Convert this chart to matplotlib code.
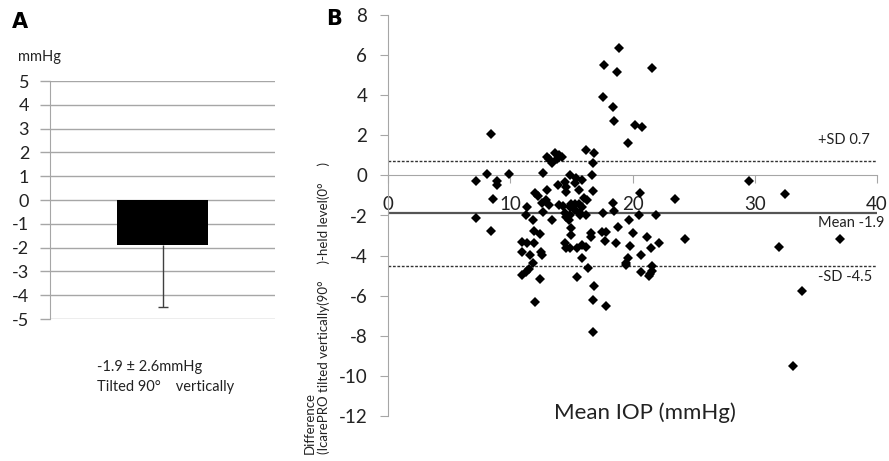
import matplotlib
matplotlib.use("Agg")
import matplotlib.pyplot as plt
import numpy as np

plt.rcParams['font.family'] = ['Lato', 'DejaVu Sans']

# ---------------- data ----------------
# Panel A
bar_mean = -1.9
bar_sd = 2.6
a_yticks = [5, 4, 3, 2, 1, 0, -1, -2, -3, -4, -5]

# Panel B: Bland-Altman points (mean IOP, difference)
mean_iop = [
    7.2, 8.1, 8.4, 8.9, 8.95, 8.55, 9.9, 7.2, 8.4,
    11.35, 11.25, 11.9, 11.0, 11.4, 11.95, 11.0, 11.6, 11.9, 11.0, 11.3, 11.5, 12.05, 12.4,
    11.95, 12.4, 12.55, 12.6, 12.0, 12.3, 12.7, 13.0, 12.9, 13.2, 12.7, 13.4, 12.6,
    13.0, 13.2, 13.4, 13.7, 14.0, 13.8, 14.2,
    13.9, 13.95, 14.5, 14.6, 14.5, 14.6, 14.5, 14.6, 14.9, 15.0, 14.8, 15.0, 15.0, 14.9,
    15.4, 15.3, 15.6, 15.3, 15.65, 15.5, 15.5, 15.9, 16.0, 15.9, 15.7, 15.9, 15.85,
    14.35, 14.9, 15.3, 14.9, 15.7, 14.6,
    16.2, 16.25, 16.2, 16.2, 16.4, 16.6, 16.6, 16.7, 16.75, 16.75, 16.85, 16.85, 16.8, 16.8, 17.5,
    18.9, 17.7, 18.7, 21.6, 17.6, 18.4, 18.5, 20.2, 20.8, 19.65, 20.6, 18.4, 18.45, 17.6,
    20.5, 21.9, 19.7, 18.8, 17.85, 17.75, 20.0, 18.65, 19.8, 21.2, 21.5, 22.2, 20.7, 19.6,
    19.5, 19.5, 20.7, 21.6, 21.6, 21.4, 21.35, 17.8,
    23.5, 24.3, 29.5, 32.5, 32.0, 37.0, 33.9, 33.1,
]
difference = [
    -0.28, 0.05, 2.05, -0.28, -0.48, -1.18, 0.05, -2.1, -2.76,
    -1.6, -1.98, -2.22, -3.3, -3.39, -3.39, -3.8, -3.97, -4.38, -4.97, -4.8, -4.68, -6.3, -5.18,
    -2.77, -2.94, -3.8, -3.97, -0.86, -1.03, 0.13, -0.73, -1.23, -1.48, -1.81, -2.22, -1.39,
    0.93, 0.8, 0.63, 1.13, 1.02, 0.8, 0.93,
    -0.48, -1.48, -0.31, -0.81, -1.89, -2.06, -3.39, -3.64, 0.02, -1.43, -2.22, -2.64, -2.97, -3.64,
    -0.15, -0.4, -0.73, -1.43, -1.43, -3.64, -5.08, -0.23, -1.14, -1.6, -1.89, -3.47, -4.14,
    -1.53, -1.56, -1.73, -1.98, -1.98, -0.56,
    1.27, -1.23, -1.98, -3.56, -4.63, -2.89, -3.06, 0.02, -0.76, 0.6, 1.1, -5.52, -6.2, -7.8, -2.8,
    6.34, 5.5, 5.14, 5.34, 3.9, 3.43, 2.73, 2.51, 2.4, 1.63, -0.86, -1.36, -1.76, -1.89,
    -2.0, -2.0, -2.22, -2.56, -2.84, -3.26, -2.89, -3.39, -3.52, -3.09, -3.64, -3.39, -3.97, -4.14,
    -4.38, -4.47, -4.8, -4.5, -4.75, -4.9, -5.02, -6.5,
    -1.18, -3.19, -0.28, -0.94, -3.59, -3.19, -5.77, -9.49,
]
mean_diff = -1.9
upper_sd = 0.7
lower_sd = -4.5
b_xticks = [0, 10, 20, 30, 40]
b_yticks = [8, 6, 4, 2, 0, -2, -4, -6, -8, -10, -12]

# ---------------- figure ----------------
W, H = 889, 461
fig = plt.figure(figsize=(W / 100, H / 100), dpi=100)

def fx(x):
    return x / W

def fy(y):
    return 1 - y / H

grid_c = '#a6a6a6'
txt_c = '#222222'

# ----- Panel A -----
axA = fig.add_axes([fx(50), fy(319), fx(275) - fx(50), fy(81) - fy(319)])
axA.set_xlim(-0.5, 0.5)
axA.set_ylim(-5, 5)
axA.set_yticks(a_yticks)
axA.set_yticklabels([str(v) for v in a_yticks], fontsize=13, color=txt_c)
axA.yaxis.grid(True, color=grid_c, lw=1)
axA.set_axisbelow(True)
for s in ['top', 'right', 'bottom']:
    axA.spines[s].set_visible(False)
axA.spines['left'].set_color(grid_c)
axA.tick_params(axis='y', length=7, color=grid_c, width=1, pad=8)
axA.set_xticks([])
axA.bar([0], [bar_mean], width=0.405, color='black', zorder=3)
eb = axA.errorbar([0], [bar_mean], yerr=[[bar_sd], [0]], fmt='none',
                  ecolor='#404040', elinewidth=1, capsize=3.5, capthick=1, zorder=2)
for cl in eb[1]:
    if np.allclose(cl.get_ydata(), bar_mean):
        cl.set_visible(False)

fig.text(fx(20), fy(22), 'A', fontsize=15, fontweight='bold', ha='center', va='center',
         family='DejaVu Sans')
fig.text(fx(18), fy(57), 'mmHg', fontsize=10.5, ha='left', va='center', color=txt_c)
fig.text(fx(97), fy(367), '-1.9 ± 2.6mmHg', fontsize=10.5, ha='left', va='center', color=txt_c)
fig.text(fx(97), fy(387), 'Tilted 90°    vertically', fontsize=10.5, ha='left', va='center',
         color=txt_c)

# ----- Panel B -----
axB = fig.add_axes([fx(388), fy(416), fx(877) - fx(388), fy(15) - fy(416)])
axB.set_xlim(0, 40)
axB.set_ylim(-12, 8)
for s in ['top', 'right']:
    axB.spines[s].set_visible(False)
axB.spines['bottom'].set_position(('data', 0))
axB.spines['bottom'].set_color(grid_c)
axB.spines['left'].set_color(grid_c)
axB.set_xticks(b_xticks)
axB.set_xticklabels([str(v) for v in b_xticks], fontsize=13.5, color=txt_c)
axB.set_yticks(b_yticks)
axB.set_yticklabels([str(v) for v in b_yticks], fontsize=13.5, color=txt_c)
axB.tick_params(axis='x', length=6, color=grid_c, pad=9)
axB.tick_params(axis='y', length=6, color=grid_c, pad=9)

axB.axhline(mean_diff, color='#555555', lw=1.6, zorder=2)
axB.axhline(upper_sd, color='#333333', lw=1, ls=(0, (2, 1.2)), zorder=2)
axB.axhline(lower_sd, color='#333333', lw=1, ls=(0, (2, 1.2)), zorder=2)

axB.plot(mean_iop, difference, ls='none', marker='D', ms=4.8, color='black',
         markeredgewidth=0, zorder=3, clip_on=False)

axB.text(35.2, upper_sd + 1.05, f'+SD {upper_sd}', fontsize=10.5, ha='left', va='center',
         color=txt_c)
axB.text(35.2, mean_diff - 0.45, f'Mean {mean_diff}', fontsize=10.5, ha='left', va='center',
         color=txt_c)
axB.text(35.2, lower_sd - 0.55, f'-SD {lower_sd}', fontsize=10.5, ha='left', va='center',
         color=txt_c)

fig.text(fx(645), fy(413), 'Mean IOP (mmHg)', fontsize=16, ha='center', va='center',
         color=txt_c)
fig.text(fx(310), fy(454), 'Difference', fontsize=9.5, rotation=90, ha='center',
         va='bottom', color=txt_c)
fig.text(fx(324), fy(454), '(IcarePRO tilted vertically(90°     )-held level(0°     )',
         fontsize=9.5, rotation=90, ha='center', va='bottom', color=txt_c)

fig.text(fx(334), fy(19), 'B', fontsize=15, fontweight='bold', ha='center', va='center',
         family='DejaVu Sans')

fig.savefig('out.png', dpi=100)
